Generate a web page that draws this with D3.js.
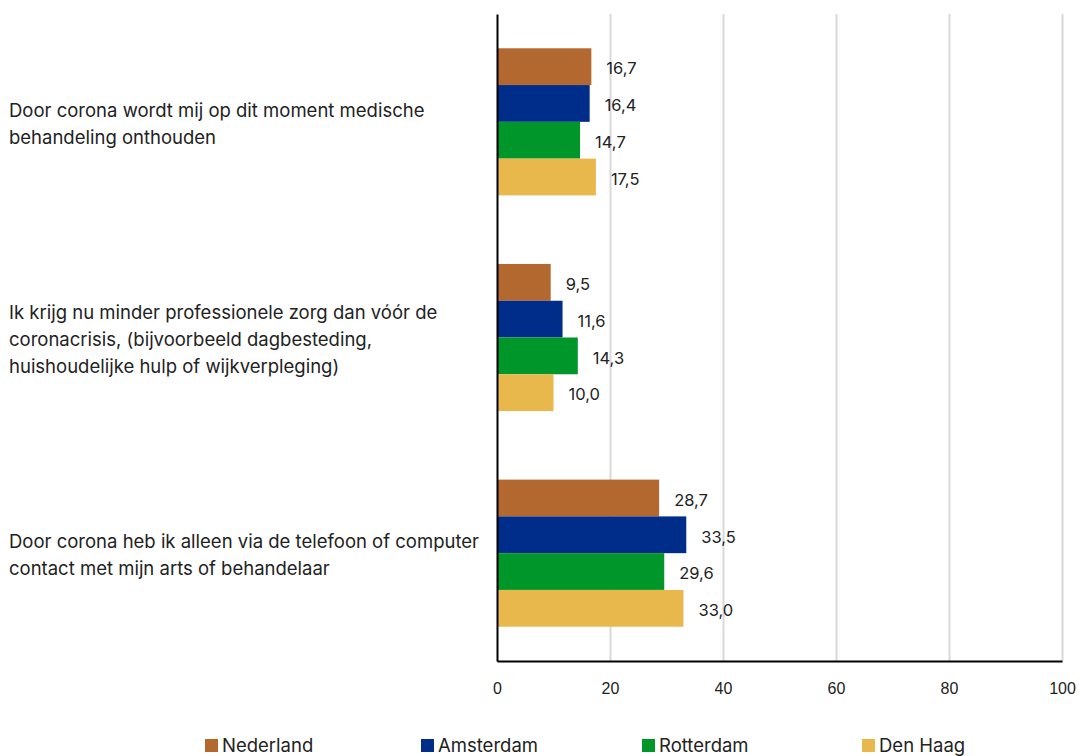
<!DOCTYPE html>
<html>
<head>
<meta charset="utf-8">
<script src="https://cdn.jsdelivr.net/npm/d3@7"></script>
<style>
  body { margin: 0; background: #fff; }
  svg { font-family: Inter, "Open Sans", sans-serif; }
  .grid line { stroke: #d9d9d9; stroke-width: 2; }
  .grid path { display: none; }
  .axis text { font-size: 16px; fill: #222; }
</style>
</head>
<body>
<div id="chart"></div>
<script>

var categories = [
  'Door corona wordt mij op dit moment medische\nbehandeling onthouden',
  'Ik krijg nu minder professionele zorg dan vóór de\ncoronacrisis, (bijvoorbeeld dagbesteding,\nhuishoudelijke hulp of wijkverpleging)',
  'Door corona heb ik alleen via de telefoon of computer\ncontact met mijn arts of behandelaar'
];
var seriesNames = ['Nederland', 'Amsterdam', 'Rotterdam', 'Den Haag'];
var nederland = [16.7, 9.5, 28.7];
var amsterdam = [16.4, 11.6, 33.5];
var rotterdam = [14.7, 14.3, 29.6];
var denHaag = [17.5, 10.0, 33.0];
var xTicks = [0, 20, 40, 60, 80, 100];

var colors = ['#b36830', '#002c8a', '#00962a', '#e8b84c'];
var values = [nederland, amsterdam, rotterdam, denHaag];

var settings = { width: 1079, height: 756, left: 497, right: 17, top: 14, bottom: 95 };
var plotW = settings.width - settings.left - settings.right;
var plotH = settings.height - settings.top - settings.bottom;

var svg = d3.select('#chart').append('svg')
  .attr('width', settings.width)
  .attr('height', settings.height);

var g = svg.append('g')
  .attr('transform', 'translate(' + settings.left + ',' + settings.top + ')');

var scaleX = d3.scaleLinear().domain([0, 100]).range([0, plotW]);

var scaleY = d3.scaleBand()
  .domain(categories)
  .range([0, plotH])
  .paddingInner(0.318)
  .paddingOuter(0.159);

var scaleS = d3.scaleBand()
  .domain(seriesNames)
  .range([0, scaleY.bandwidth()]);

// gridlines
g.append('g')
  .classed('grid', true)
  .call(d3.axisBottom(scaleX).tickValues(xTicks.slice(1)).tickSize(plotH).tickFormat(''));

// bars
var groups = g.selectAll('.cat')
  .data(categories)
  .enter()
  .append('g')
  .attr('transform', function(d) { return 'translate(0,' + scaleY(d) + ')'; });

groups.each(function(cat, ci) {
  var rows = seriesNames.map(function(s, si) { return { name: s, val: values[si][ci], color: colors[si] }; });
  var sel = d3.select(this);
  sel.selectAll('rect')
    .data(rows)
    .enter()
    .append('rect')
    .attr('x', 0)
    .attr('y', function(d) { return scaleS(d.name); })
    .attr('width', function(d) { return scaleX(d.val); })
    .attr('height', scaleS.bandwidth())
    .attr('fill', function(d) { return d.color; });
  sel.selectAll('text')
    .data(rows)
    .enter()
    .append('text')
    .attr('x', function(d) { return scaleX(d.val) + 15; })
    .attr('y', function(d) { return scaleS(d.name) + scaleS.bandwidth() / 2 + 2; })
    .attr('dy', '0.35em')
    .attr('font-size', 16.5)
    .attr('fill', '#222')
    .text(function(d) { return d.val.toFixed(1).replace('.', ','); });
});

// x axis
var axisX = g.append('g')
  .classed('axis', true)
  .attr('transform', 'translate(0,' + plotH + ')')
  .call(d3.axisBottom(scaleX).tickValues(xTicks).tickSize(0).tickPadding(22));
axisX.select('.domain').attr('stroke', '#000').attr('stroke-width', 2);
axisX.selectAll('.tick text').attr('font-size', 16.5).attr('fill', '#222');

// y axis
var axisY = g.append('g')
  .call(d3.axisLeft(scaleY).tickSize(0).tickFormat(''));
axisY.select('.domain').attr('stroke', '#000').attr('stroke-width', 2);

// category labels
var lineH = 27;
svg.selectAll('.catlabel')
  .data(categories)
  .enter()
  .append('text')
  .attr('font-size', 18.5)
  .attr('fill', '#222')
  .each(function(d) {
    var lines = d.split('\n');
    var cy = settings.top + scaleY(d) + scaleY.bandwidth() / 2 + 2;
    var y0 = cy - (lines.length - 1) * lineH / 2;
    var t = d3.select(this);
    lines.forEach(function(l, i) {
      t.append('tspan')
        .attr('x', 9)
        .attr('y', y0 + i * lineH)
        .attr('dy', '0.35em')
        .text(l);
    });
  });

// legend
var legendX = [205, 421, 642, 862];
var legend = svg.selectAll('.legend')
  .data(seriesNames)
  .enter()
  .append('g')
  .attr('transform', function(d, i) { return 'translate(' + legendX[i] + ',745)'; });
legend.append('rect')
  .attr('x', 0).attr('y', -6)
  .attr('width', 13).attr('height', 13)
  .attr('fill', function(d, i) { return colors[i]; });
legend.append('text')
  .attr('x', 17).attr('y', 1)
  .attr('dy', '0.35em')
  .attr('font-size', 18.5)
  .attr('fill', '#222')
  .text(function(d) { return d; });

</script>
</body>
</html>
